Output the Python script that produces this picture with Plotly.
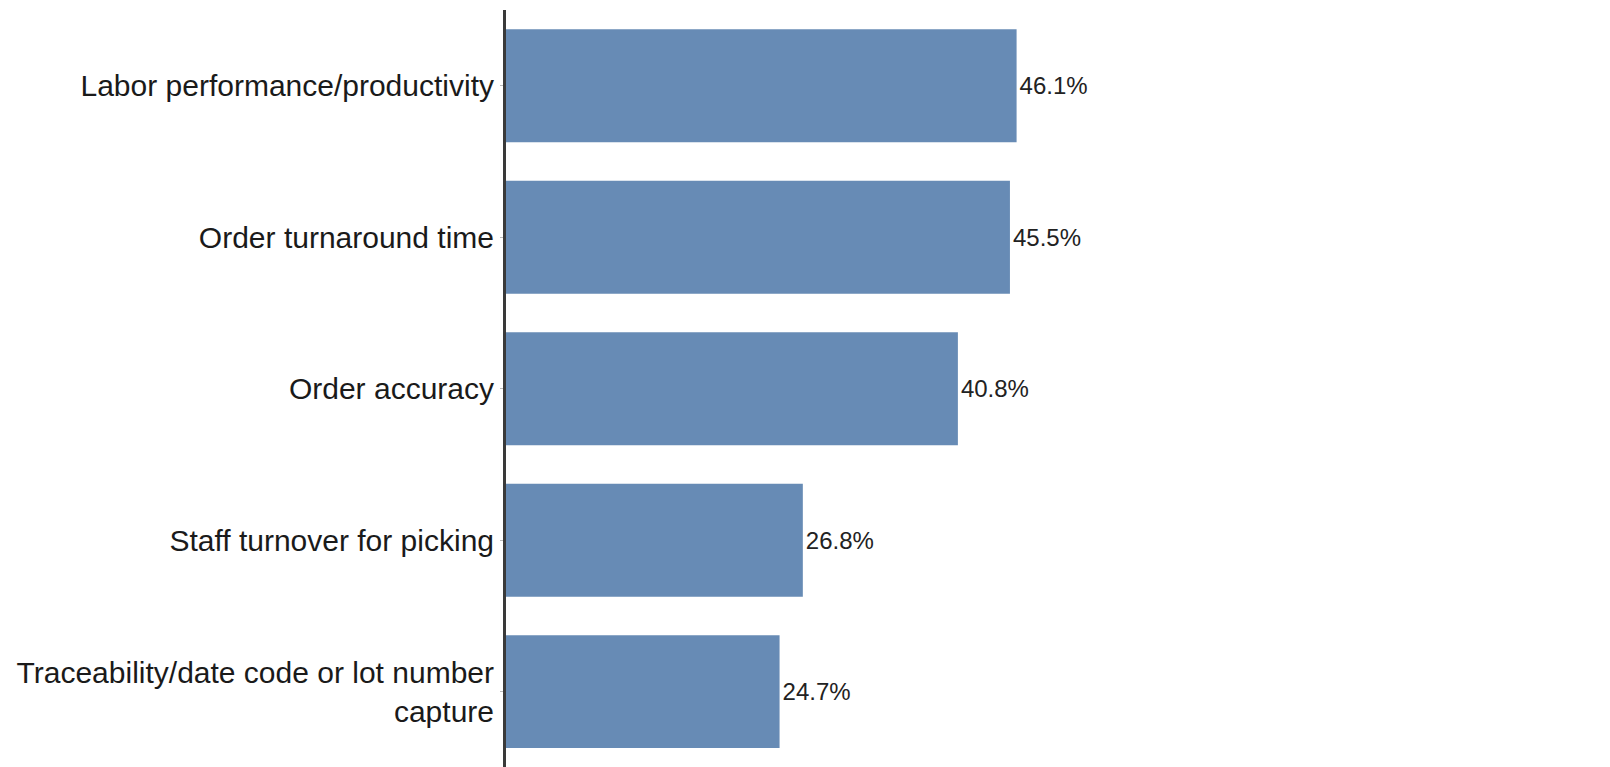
import plotly.graph_objects as go

categories = [
    "Labor performance/productivity",
    "Order turnaround time",
    "Order accuracy",
    "Staff turnover for picking",
    "Traceability/date code or lot number<br>capture",
]
values = [46.1, 45.5, 40.8, 26.8, 24.7]
value_labels = [f"{v:.1f}%" for v in values]

fig = go.Figure(
    go.Bar(
        x=values,
        y=categories,
        orientation="h",
        marker=dict(color="#678bb5", line=dict(width=0)),
        text=value_labels,
        textposition="outside",
        textfont=dict(family="Liberation Sans, Arial, sans-serif", size=24, color="#222222"),
        cliponaxis=False,
        hoverinfo="skip",
    )
)

fig.update_layout(
    width=1610,
    height=767,
    margin=dict(l=498, r=0, t=2, b=0),
    paper_bgcolor="white",
    plot_bgcolor="white",
    bargap=0.255,
    showlegend=False,
    font=dict(family="Liberation Sans, Arial, sans-serif", color="#1a1a1a"),
    xaxis=dict(
        range=[0, 100.4],
        showticklabels=False,
        ticks="",
        showline=True,
        linecolor="#e4e4e4",
        linewidth=1,
        showgrid=False,
        zeroline=False,
    ),
    yaxis=dict(
        range=[4.55, -0.5],
        showline=True,
        linecolor="#3a3a3a",
        linewidth=3,
        showgrid=False,
        zeroline=False,
        ticks="outside",
        ticklen=3,
        tickcolor="#bbbbbb",
        tickfont=dict(family="Liberation Sans, Arial, sans-serif", size=30, color="#1a1a1a"),
    ),
)

fig.write_html("out.html")
